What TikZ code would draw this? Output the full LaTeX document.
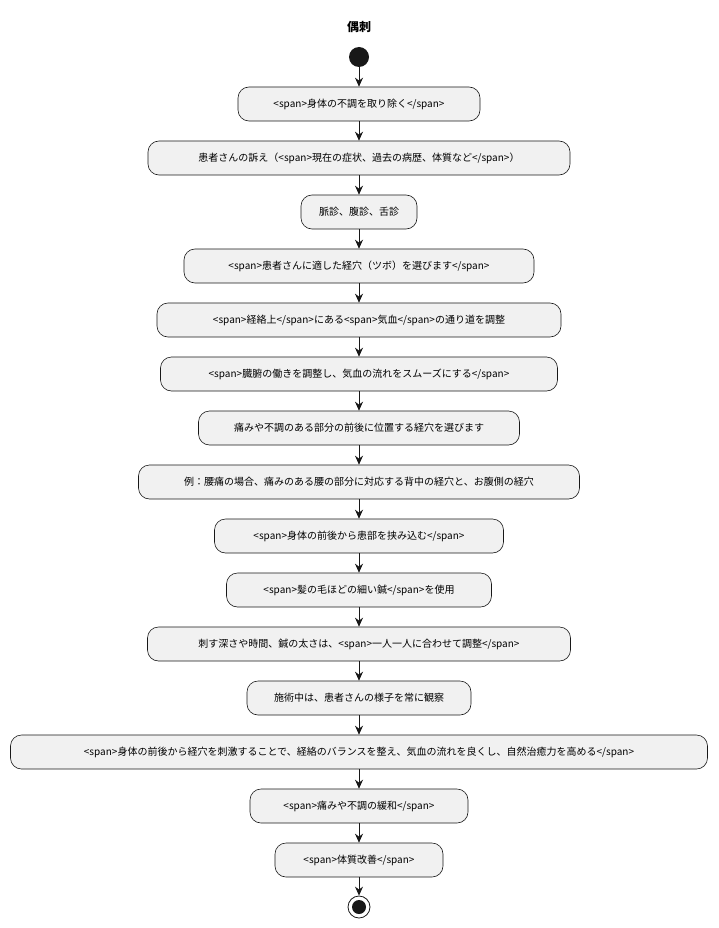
\documentclass[tikz,border=0pt]{standalone}
\usepackage{fontspec}
\setmainfont{Noto Sans CJK JP}
\usetikzlibrary{arrows.meta}
\definecolor{boxfill}{HTML}{F1F1F1}
\definecolor{boxline}{HTML}{181818}
\tikzset{
	action/.style={draw=boxline, fill=boxfill, rounded corners=11pt, minimum height=34pt, inner xsep=10pt, font=\fontsize{10}{12}\selectfont, line width=0.6pt},
	flow/.style={draw=boxline, line width=0.8pt, -{Stealth[length=9pt, width=8pt]}}
}
\begin{document}
\begin{tikzpicture}[x=1pt, y=-1pt]
	\useasboundingbox (0,0) rectangle (718,928);
	% title and start
	\node[font=\bfseries\fontsize{12}{14}\selectfont] (title) at (359, 27) {偶刺};
	\node[circle, fill=boxline, minimum size=20pt, inner sep=0pt] (start) at (359, 57) {};

	% actions
	\node[action, minimum width=242pt] (s1) at (359, 104) {<span>身体の不調を取り除く</span>};
	\node[action, minimum width=422pt] (s2) at (359, 158) {患者さんの訴え（<span>現在の症状、過去の病歴、体質など</span>）};
	\node[action, minimum width=116pt] (s3) at (359, 212) {脈診、腹診、舌診};
	\node[action, minimum width=350pt] (s4) at (359, 266) {<span>患者さんに適した経穴（ツボ）を選びます</span>};
	\node[action, minimum width=404pt] (s5) at (359, 320) {<span>経絡上</span>にある<span>気血</span>の通り道を調整};
	\node[action, minimum width=397pt] (s6) at (359, 374) {<span>臓腑の働きを調整し、気血の流れをスムーズにする</span>};
	\node[action, minimum width=321pt] (s7) at (359, 428) {痛みや不調のある部分の前後に位置する経穴を選びます};
	\node[action, minimum width=441pt] (s8) at (359, 482) {例：腰痛の場合、痛みのある腰の部分に対応する背中の経穴と、お腹側の経穴};
	\node[action, minimum width=289pt] (s9) at (359, 536) {<span>身体の前後から患部を挟み込む</span>};
	\node[action, minimum width=265pt] (s10) at (359, 590) {<span>髪の毛ほどの細い鍼</span>を使用};
	\node[action, minimum width=423pt] (s11) at (359, 644) {刺す深さや時間、鍼の太さは、<span>一人一人に合わせて調整</span>};
	\node[action, minimum width=224pt] (s12) at (359, 698) {施術中は、患者さんの様子を常に観察};
	\node[action, minimum width=697pt] (s13) at (359, 752) {<span>身体の前後から経穴を刺激することで、経絡のバランスを整え、気血の流れを良くし、自然治癒力を高める</span>};
	\node[action, minimum width=218pt] (s14) at (359, 806) {<span>痛みや不調の緩和</span>};
	\node[action, minimum width=168pt] (s15) at (359, 860) {<span>体質改善</span>};

	% end
	\node[circle, draw=boxline, line width=0.8pt, minimum size=22pt, inner sep=0pt] (stop) at (359, 907) {};
	\node[circle, fill=boxline, minimum size=14pt, inner sep=0pt] (stopdot) at (stop) {};

	% arrows
	\draw[flow] (start) -- (s1);
	\foreach \a/\b in {1/2,2/3,3/4,4/5,5/6,6/7,7/8,8/9,9/10,10/11,11/12,12/13,13/14,14/15}
		\draw[flow] (s\a) -- (s\b);
	\draw[flow] (s15) -- (stop);
\end{tikzpicture}
\end{document}
